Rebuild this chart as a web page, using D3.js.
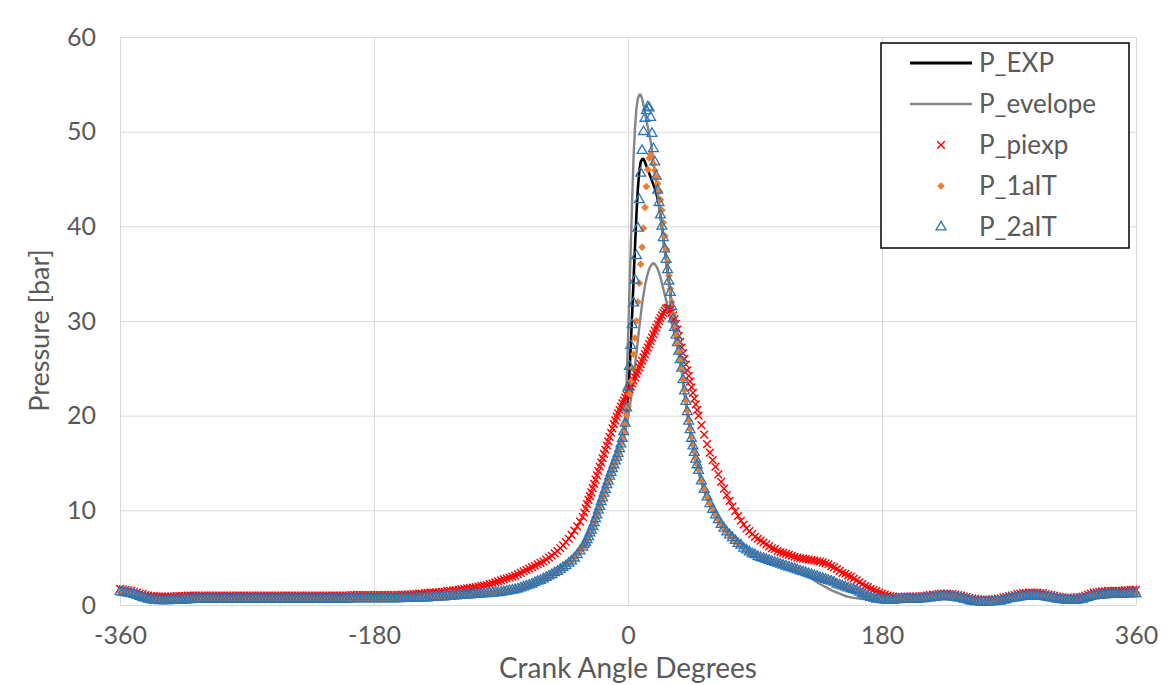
<!DOCTYPE html>
<html>
<head>
<meta charset="utf-8">
<script src="https://cdn.jsdelivr.net/npm/d3@7"></script>
<style>
  body { margin: 0; background: #fff; }
  svg { font-family: Lato, "Open Sans", sans-serif; }
</style>
</head>
<body>
<svg id="chart" width="1172" height="685"></svg>
<script>
// crank angle grid used by the marker series (deg): 2 deg steps, 1 deg around TDC
var angles = [].concat(
  d3.range(-360, -31, 2),
  d3.range(-31, 51, 1),
  d3.range(52, 361, 2)
);

// P_piexp (red x)
var P_piexp = [
  // -360 .. -122
  1.7, 1.65, 1.6, 1.55, 1.5, 1.4, 1.3, 1.2, 1.15, 1.05,
  1.0, 0.95, 0.95, 0.9, 0.9, 0.9, 0.9, 0.9, 0.9, 0.9,
  0.95, 0.95, 0.95, 0.95, 1.0, 1.0, 1.0, 1.0, 1.0, 1.0,
  1.0, 1.0, 1.0, 1.0, 1.0, 1.0, 1.0, 1.0, 1.0, 1.0,
  1.0, 1.0, 1.0, 1.0, 1.0, 1.0, 1.0, 1.0, 1.0, 1.0,
  1.0, 1.0, 1.0, 1.0, 1.0, 1.0, 1.0, 1.0, 1.0, 1.0,
  1.0, 1.0, 1.0, 1.0, 1.0, 1.0, 1.0, 1.0, 1.0, 1.0,
  1.0, 1.0, 1.0, 1.0, 1.0, 1.0, 1.0, 1.0, 1.0, 1.0,
  1.0, 1.0, 1.05, 1.05, 1.05, 1.05, 1.05, 1.05, 1.05, 1.05,
  1.05, 1.05, 1.05, 1.05, 1.05, 1.05, 1.05, 1.05, 1.05, 1.05,
  1.1, 1.1, 1.1, 1.1, 1.15, 1.15, 1.2, 1.2, 1.25, 1.25,
  1.3, 1.3, 1.35, 1.35, 1.4, 1.4, 1.5, 1.5, 1.55, 1.55,
  // -120 .. -32
  1.6, 1.65, 1.7, 1.75, 1.8, 1.85, 1.9, 1.95, 2.0, 2.05, 2.1,
  2.2, 2.3, 2.4, 2.5, 2.6, 2.7, 2.8, 2.9, 3.0, 3.1,
  3.25, 3.4, 3.55, 3.7, 3.85, 4.0, 4.15, 4.3, 4.45, 4.6,
  4.8, 5.0, 5.2, 5.45, 5.7, 6.0, 6.3, 6.65, 7.0, 7.4,
  7.85, 8.3, 8.8, 9.3,
  // -31 .. 50
  9.75, 10.2, 10.65, 11.1, 11.5, 11.9, 12.35, 12.8, 13.25, 13.7,
  14.15, 14.6, 15.05, 15.5, 15.95, 16.4, 16.85, 17.3, 17.75, 18.2,
  18.65, 19.1, 19.5, 19.9, 20.25, 20.6, 20.95, 21.3, 21.6, 21.9,
  22.2, 22.5, 22.8, 23.1, 23.4, 23.7, 24.05, 24.4, 24.75, 25.1,
  25.45, 25.8, 26.15, 26.5, 26.85, 27.2, 27.55, 27.9, 28.25, 28.6,
  28.95, 29.3, 29.65, 30.0, 30.3, 30.6, 30.85, 31.1, 31.3, 31.4,
  31.4, 31.2, 30.9, 30.6, 30.2, 29.7, 29.1, 28.4, 27.8, 27.2,
  26.6, 26.0, 25.4, 24.8, 24.2, 23.6, 23.0, 22.4, 21.8, 21.2,
  20.6, 20.0,
  // 52 .. 180
  19.0, 18.0, 17.0, 16.1, 15.3, 14.6, 13.8, 13.0, 12.3, 11.6,
  11.0, 10.4, 9.9, 9.4, 8.9, 8.5, 8.1, 7.8, 7.5, 7.2,
  7.0, 6.8, 6.6, 6.4, 6.2, 6.0, 5.9, 5.7, 5.6, 5.5,
  5.4, 5.3, 5.2, 5.1, 5.0, 4.95, 4.9, 4.85, 4.8, 4.75,
  4.7, 4.65, 4.6, 4.5, 4.4, 4.3, 4.1, 4.0, 3.8, 3.6,
  3.4, 3.3, 3.1, 3.0, 2.8, 2.6, 2.4, 2.2, 2.0, 1.9,
  1.7, 1.6, 1.5, 1.3, 1.2,
  // 182 .. 360
  1.1, 1.0, 0.95, 0.9, 0.85, 0.85, 0.85, 0.9, 0.9, 0.9,
  0.9, 0.9, 0.9, 0.95, 0.95, 1.0, 1.05, 1.1, 1.1, 1.15,
  1.2, 1.2, 1.2, 1.15, 1.15, 1.1, 1.05, 1.0, 0.9, 0.85,
  0.75, 0.7, 0.65, 0.6, 0.55, 0.55, 0.55, 0.55, 0.6, 0.6,
  0.65, 0.7, 0.8, 0.85, 0.95, 1.0, 1.05, 1.15, 1.2, 1.25,
  1.25, 1.3, 1.3, 1.3, 1.3, 1.25, 1.25, 1.15, 1.1, 1.05,
  1.0, 0.9, 0.85, 0.8, 0.75, 0.75, 0.75, 0.75, 0.8, 0.85,
  0.9, 1.0, 1.1, 1.2, 1.3, 1.35, 1.4, 1.45, 1.45, 1.5,
  1.5, 1.5, 1.5, 1.5, 1.5, 1.55, 1.55, 1.6, 1.6, 1.6
];

// P_1aIT (orange diamonds)
var P_1aIT = [
  // -360 .. -122
  1.4, 1.35, 1.3, 1.2, 1.15, 1.1, 1.0, 0.9, 0.8, 0.7,
  0.6, 0.55, 0.5, 0.5, 0.45, 0.45, 0.5, 0.5, 0.5, 0.5,
  0.5, 0.5, 0.55, 0.55, 0.55, 0.55, 0.6, 0.6, 0.6, 0.6,
  0.6, 0.6, 0.6, 0.6, 0.6, 0.6, 0.6, 0.6, 0.6, 0.6,
  0.6, 0.6, 0.6, 0.6, 0.6, 0.6, 0.6, 0.6, 0.6, 0.6,
  0.6, 0.6, 0.6, 0.6, 0.6, 0.6, 0.6, 0.6, 0.6, 0.6,
  0.6, 0.6, 0.6, 0.6, 0.6, 0.6, 0.6, 0.6, 0.6, 0.6,
  0.6, 0.6, 0.6, 0.6, 0.6, 0.6, 0.6, 0.6, 0.6, 0.6,
  0.6, 0.6, 0.65, 0.65, 0.65, 0.65, 0.65, 0.65, 0.65, 0.65,
  0.65, 0.65, 0.65, 0.65, 0.65, 0.65, 0.65, 0.65, 0.65, 0.65,
  0.7, 0.7, 0.7, 0.7, 0.7, 0.7, 0.75, 0.75, 0.8, 0.8,
  0.8, 0.8, 0.85, 0.85, 0.85, 0.9, 0.9, 0.9, 0.95, 0.95,
  // -120 .. -32
  1.0, 1.0, 1.0, 1.05, 1.05, 1.1, 1.1, 1.15, 1.15, 1.2, 1.2,
  1.25, 1.25, 1.3, 1.3, 1.35, 1.4, 1.45, 1.5, 1.55, 1.6,
  1.7, 1.8, 1.9, 2.0, 2.1, 2.2, 2.35, 2.5, 2.6, 2.75,
  2.9, 3.05, 3.2, 3.4, 3.55, 3.75, 3.95, 4.15, 4.4, 4.65,
  4.95, 5.3, 5.7, 6.1,
  // -31 .. 50
  6.4, 6.6, 6.9, 7.2, 7.6, 7.9, 8.3, 8.7, 9.1, 9.5,
  10.0, 10.4, 10.9, 11.3, 11.8, 12.2, 12.7, 13.1, 13.6, 14.0,
  14.4, 14.8, 15.2, 15.6, 16.0, 16.5, 17.0, 17.5, 18.2, 19.0,
  20.0, 21.0, 22.3, 23.6, 25.0, 26.5, 28.2, 30.0, 32.0, 34.0,
  36.0, 37.8, 39.8, 42.0, 44.2, 46.0, 47.2, 47.6, 47.3, 46.6,
  45.9, 45.2, 44.5, 43.7, 42.8, 41.7, 40.4, 39.0, 37.6, 36.2,
  34.8, 33.4, 32.0, 30.7, 29.5, 28.5, 27.6, 26.7, 25.8, 24.9,
  23.8, 22.7, 21.6, 20.5, 19.5, 18.6, 17.7, 16.9, 16.2, 15.5,
  14.9, 14.3,
  // 52 .. 180
  13.1, 12.2, 11.4, 10.7, 10.1, 9.5, 9.0, 8.5, 8.1, 7.7,
  7.4, 7.1, 6.8, 6.5, 6.3, 6.0, 5.8, 5.6, 5.4, 5.3,
  5.1, 5.0, 4.9, 4.8, 4.7, 4.6, 4.5, 4.4, 4.3, 4.2,
  4.1, 4.0, 3.9, 3.8, 3.7, 3.6, 3.5, 3.4, 3.3, 3.2,
  3.1, 3.0, 2.9, 2.8, 2.7, 2.6, 2.5, 2.4, 2.2, 2.1,
  2.0, 1.9, 1.8, 1.7, 1.6, 1.5, 1.35, 1.2, 1.05, 0.9,
  0.8, 0.7, 0.6, 0.6, 0.55,
  // 182 .. 360
  0.5, 0.5, 0.5, 0.5, 0.55, 0.55, 0.6, 0.6, 0.6, 0.6,
  0.6, 0.6, 0.6, 0.65, 0.65, 0.7, 0.75, 0.8, 0.8, 0.85,
  0.9, 0.9, 0.9, 0.85, 0.85, 0.8, 0.75, 0.7, 0.6, 0.55,
  0.45, 0.4, 0.35, 0.35, 0.3, 0.3, 0.3, 0.3, 0.35, 0.35,
  0.4, 0.4, 0.5, 0.55, 0.65, 0.7, 0.75, 0.8, 0.85, 0.9,
  0.9, 0.95, 0.95, 0.95, 0.95, 0.9, 0.9, 0.85, 0.8, 0.75,
  0.7, 0.6, 0.6, 0.55, 0.5, 0.5, 0.5, 0.5, 0.5, 0.55,
  0.6, 0.7, 0.8, 0.9, 0.95, 1.0, 1.0, 1.05, 1.05, 1.1,
  1.1, 1.1, 1.1, 1.1, 1.1, 1.15, 1.15, 1.2, 1.2, 1.2
];

// P_2aIT (blue hollow triangles)
var P_2aIT = [
  // -360 .. -122
  1.4, 1.35, 1.3, 1.25, 1.2, 1.1, 1.0, 0.9, 0.8, 0.7,
  0.6, 0.55, 0.5, 0.5, 0.45, 0.45, 0.45, 0.45, 0.5, 0.5,
  0.5, 0.5, 0.5, 0.5, 0.55, 0.55, 0.6, 0.6, 0.6, 0.6,
  0.6, 0.6, 0.6, 0.6, 0.6, 0.6, 0.6, 0.6, 0.6, 0.6,
  0.6, 0.6, 0.6, 0.6, 0.6, 0.6, 0.6, 0.6, 0.6, 0.6,
  0.6, 0.6, 0.6, 0.6, 0.6, 0.6, 0.6, 0.6, 0.6, 0.6,
  0.6, 0.6, 0.6, 0.6, 0.6, 0.6, 0.6, 0.6, 0.6, 0.6,
  0.6, 0.6, 0.6, 0.6, 0.6, 0.6, 0.6, 0.6, 0.6, 0.6,
  0.6, 0.6, 0.65, 0.65, 0.65, 0.65, 0.65, 0.65, 0.65, 0.65,
  0.65, 0.65, 0.65, 0.65, 0.65, 0.65, 0.65, 0.65, 0.65, 0.65,
  0.7, 0.7, 0.7, 0.7, 0.7, 0.7, 0.75, 0.75, 0.75, 0.75,
  0.8, 0.8, 0.85, 0.85, 0.85, 0.85, 0.9, 0.9, 0.95, 0.95,
  // -120 .. -32
  1.0, 1.0, 1.0, 1.05, 1.05, 1.1, 1.1, 1.15, 1.15, 1.2, 1.2,
  1.25, 1.25, 1.3, 1.3, 1.35, 1.4, 1.45, 1.5, 1.55, 1.6,
  1.7, 1.8, 1.9, 2.0, 2.1, 2.2, 2.35, 2.5, 2.6, 2.75,
  2.9, 3.05, 3.2, 3.4, 3.55, 3.75, 3.95, 4.15, 4.4, 4.65,
  4.95, 5.3, 5.7, 6.1,
  // -31 .. 50
  6.4, 6.6, 6.9, 7.2, 7.6, 7.9, 8.3, 8.7, 9.1, 9.5,
  10.0, 10.4, 10.9, 11.3, 11.8, 12.2, 12.7, 13.1, 13.6, 14.0,
  14.4, 14.8, 15.2, 15.6, 16.0, 16.5, 17.0, 17.6, 18.3, 19.2,
  20.8, 23.0, 25.2, 27.4, 29.6, 31.9, 34.3, 36.9, 39.8, 42.8,
  45.6, 48.0, 50.0, 51.4, 52.2, 52.6, 52.5, 51.5, 49.8, 48.2,
  46.8, 45.3, 43.8, 42.5, 41.2, 40.0, 38.8, 37.6, 36.5, 35.4,
  34.2, 33.0, 31.5, 30.2, 29.3, 28.5, 27.7, 26.8, 25.9, 25.0,
  23.8, 22.6, 21.5, 20.4, 19.4, 18.5, 17.6, 16.8, 16.1, 15.4,
  14.8, 14.2,
  // 52 .. 180
  13.1, 12.2, 11.4, 10.7, 10.1, 9.5, 9.0, 8.5, 8.1, 7.7,
  7.4, 7.1, 6.8, 6.5, 6.3, 6.0, 5.8, 5.6, 5.4, 5.3,
  5.1, 5.0, 4.9, 4.8, 4.7, 4.6, 4.5, 4.4, 4.3, 4.2,
  4.1, 4.0, 3.9, 3.8, 3.7, 3.6, 3.5, 3.4, 3.3, 3.2,
  3.1, 3.0, 2.9, 2.8, 2.7, 2.6, 2.5, 2.4, 2.2, 2.1,
  2.0, 1.9, 1.8, 1.7, 1.6, 1.5, 1.35, 1.2, 1.05, 0.9,
  0.8, 0.7, 0.6, 0.6, 0.55,
  // 182 .. 360
  0.5, 0.5, 0.5, 0.5, 0.55, 0.55, 0.6, 0.6, 0.6, 0.6,
  0.6, 0.6, 0.6, 0.65, 0.65, 0.7, 0.75, 0.8, 0.8, 0.85,
  0.9, 0.9, 0.9, 0.85, 0.85, 0.8, 0.75, 0.7, 0.6, 0.55,
  0.45, 0.4, 0.35, 0.35, 0.3, 0.3, 0.3, 0.3, 0.35, 0.35,
  0.4, 0.4, 0.5, 0.55, 0.65, 0.7, 0.75, 0.8, 0.85, 0.9,
  0.9, 0.95, 0.95, 0.95, 0.95, 0.9, 0.9, 0.85, 0.8, 0.75,
  0.7, 0.6, 0.6, 0.55, 0.5, 0.5, 0.5, 0.5, 0.5, 0.55,
  0.6, 0.7, 0.8, 0.9, 0.95, 1.0, 1.0, 1.05, 1.05, 1.1,
  1.1, 1.1, 1.1, 1.1, 1.1, 1.15, 1.15, 1.2, 1.2, 1.2
];

// crank angle grid used by the line series (deg)
var lineAngles = [].concat(
  d3.range(-360, -129, 10),
  d3.range(-120, -39, 10),
  d3.range(-35, -14, 5),
  d3.range(-10, 31, 1),
  d3.range(32, 61, 2),
  d3.range(65, 201, 5),
  d3.range(210, 361, 10)
);

// P_EXP (black line)
var P_EXP = [
  1.4, 1.1, 0.6, 0.5, 0.5, 0.55, 0.6, 0.6, 0.6, 0.6,
  0.6, 0.6, 0.6, 0.6, 0.6, 0.6, 0.6, 0.65, 0.65, 0.65,
  0.7, 0.7, 0.8, 0.9,
  1.0, 1.1, 1.2, 1.35, 1.6, 2.1, 2.75, 3.55, 4.65,
  5.5, 6.6, 8.3, 10.4, 12.7,
  14.8, 15.2, 15.6, 16.0, 16.5, 17.0, 17.6, 18.4, 19.5, 20.5,
  22.0, 24.5, 27.5, 31.0, 34.5, 38.0, 41.3, 44.0, 45.8, 46.8,
  47.1, 47.1, 46.8, 46.4, 46.0, 45.6, 45.2, 44.8, 44.4, 44.0,
  43.5, 42.9, 42.2, 41.2, 40.0, 38.8, 37.6, 36.5, 35.4, 34.2,
  33.0,
  30.2, 28.5, 26.8, 25.0, 22.6, 20.4, 18.5, 16.8, 15.4, 14.2,
  13.1, 12.2, 11.4, 10.7, 10.1,
  8.7, 7.7, 6.95, 6.3, 5.7, 5.3, 4.95, 4.7, 4.45, 4.2,
  3.95, 3.7, 3.45, 3.2, 2.95, 2.7, 2.45, 2.1, 1.85, 1.6,
  1.3, 0.9, 0.7, 0.55, 0.5, 0.5, 0.55, 0.6,
  0.65, 0.85, 0.85, 0.55, 0.3, 0.35, 0.6, 0.9, 0.95, 0.75,
  0.5, 0.55, 0.95, 1.1, 1.1, 1.2
];

// P_evelope (grey line): upper and lower envelope of the cycles
var P_envUpper = [
  1.4, 1.1, 0.6, 0.5, 0.5, 0.55, 0.6, 0.6, 0.6, 0.6,
  0.6, 0.6, 0.6, 0.6, 0.6, 0.6, 0.6, 0.65, 0.65, 0.65,
  0.7, 0.7, 0.8, 0.9,
  1.0, 1.1, 1.2, 1.35, 1.6, 2.1, 2.75, 3.55, 4.65,
  5.5, 6.6, 8.3, 10.4, 12.7,
  15.0, 15.4, 15.8, 16.3, 16.8, 17.4, 18.0, 18.8, 20.0, 23.5,
  28.0, 33.0, 38.0, 43.0, 47.5, 50.5, 52.5, 53.5, 53.9, 53.9,
  53.5, 52.8, 52.0, 51.2, 50.5, 49.8, 49.0, 48.0, 46.9, 45.8,
  44.6, 43.4, 42.2, 41.0, 39.8, 38.6, 37.5, 36.4, 35.3, 34.1,
  32.9,
  30.4, 28.7, 27.0, 25.2, 22.8, 20.6, 18.7, 17.0, 15.6, 14.4,
  13.3, 12.4, 11.6, 10.9, 10.3,
  8.7, 7.7, 6.95, 6.3, 5.7, 5.3, 4.95, 4.7, 4.45, 4.2,
  3.95, 3.7, 3.45, 3.2, 2.95, 2.7, 2.45, 2.1, 1.85, 1.6,
  1.3, 0.9, 0.7, 0.55, 0.5, 0.5, 0.55, 0.6,
  0.65, 0.85, 0.85, 0.55, 0.3, 0.35, 0.6, 0.9, 0.95, 0.75,
  0.5, 0.55, 0.95, 1.1, 1.1, 1.2
];
var P_envLower = [
  1.3, 1.0, 0.55, 0.45, 0.45, 0.5, 0.55, 0.55, 0.55, 0.55,
  0.55, 0.55, 0.55, 0.55, 0.55, 0.55, 0.55, 0.6, 0.6, 0.6,
  0.65, 0.65, 0.75, 0.85,
  0.95, 1.05, 1.15, 1.3, 1.55, 2.0, 2.65, 3.45, 4.55,
  5.4, 6.5, 8.2, 10.3, 12.6,
  14.6, 15.0, 15.4, 15.8, 16.2, 16.7, 17.2, 17.7, 18.3, 19.0,
  19.8, 20.7, 21.7, 22.8, 24.0, 25.3, 26.6, 28.0, 29.3, 30.6,
  31.8, 32.8, 33.7, 34.4, 35.0, 35.5, 35.8, 36.0, 36.1, 36.0,
  35.8, 35.5, 35.1, 34.6, 34.0, 33.4, 32.8, 32.2, 31.6, 31.0,
  30.3,
  29.2, 28.0, 26.5, 24.8, 22.4, 20.2, 18.3, 16.6, 15.2, 14.0,
  12.9, 12.0, 11.2, 10.5, 9.9,
  8.6, 7.6, 6.85, 6.2, 5.6, 5.2, 4.85, 4.6, 4.35, 4.1,
  3.8, 3.5, 3.2, 2.8, 2.3, 1.9, 1.5, 1.2, 0.9, 0.75,
  0.65, 0.6, 0.55, 0.5, 0.5, 0.5, 0.55, 0.6,
  0.6, 0.8, 0.8, 0.5, 0.25, 0.3, 0.55, 0.85, 0.9, 0.7,
  0.45, 0.5, 0.9, 1.05, 1.05, 1.15
];

var xTicks = [-360, -180, 0, 180, 360];
var yTicks = [0, 10, 20, 30, 40, 50, 60];

var svg = d3.select('#chart');
var textColor = '#595959';
var gridColor = '#d9d9d9';

var x = d3.scaleLinear().domain([-360, 360]).range([120, 1136]);
var y = d3.scaleLinear().domain([0, 60]).range([605, 37]);

// horizontal grid + y labels
var yAxis = svg.append('g')
  .attr('transform', 'translate(' + x(-360) + ',0)')
  .call(d3.axisLeft(y).tickValues(yTicks).tickFormat(function(d) { return String(d); })
    .tickSize(-(x(360) - x(-360))).tickPadding(24));
// vertical grid + x labels (plain hyphen for negatives, like Excel)
var xAxis = svg.append('g')
  .attr('transform', 'translate(0,' + y(0) + ')')
  .call(d3.axisBottom(x).tickValues(xTicks).tickFormat(function(d) { return String(d); })
    .tickSize(-(y(0) - y(60))).tickPadding(21));

[yAxis, xAxis].forEach(function(a) {
  a.select('.domain').remove();
  a.selectAll('line').attr('stroke', gridColor).attr('stroke-width', 1);
  a.selectAll('text').attr('fill', textColor).style('font-size', '25px').style('font-family', 'Lato, sans-serif');
});

// axis titles
svg.append('text')
  .attr('x', x(0)).attr('y', 678)
  .attr('text-anchor', 'middle')
  .attr('fill', textColor).style('font-size', '28px')
  .text('Crank Angle Degrees');
svg.append('text')
  .attr('transform', 'translate(40,' + y(29) + ') rotate(-90)')
  .attr('text-anchor', 'middle').attr('dy', '0.35em')
  .attr('fill', textColor).style('font-size', '27px')
  .text('Pressure [bar]');

// line series
var line = d3.line()
  .x(function(d) { return x(d[0]); })
  .y(function(d) { return y(d[1]); });

function pairs(xs, ys) { return xs.map(function(a, i) { return [a, ys[i]]; }); }

var plot = svg.append('g');
plot.append('path').datum(pairs(lineAngles, P_EXP))
  .attr('d', line).attr('fill', 'none').attr('stroke', '#000').attr('stroke-width', 2.6);
plot.append('path').datum(pairs(lineAngles, P_envUpper))
  .attr('d', line).attr('fill', 'none').attr('stroke', '#858585').attr('stroke-width', 2.4);
plot.append('path').datum(pairs(lineAngles, P_envLower))
  .attr('d', line).attr('fill', 'none').attr('stroke', '#858585').attr('stroke-width', 2.4);

// marker series
var symX = d3.symbol().type(d3.symbolTimes).size(40)();
var symD = d3.symbol().type(d3.symbolSquare).size(30)();
var symT = d3.symbol().type(d3.symbolTriangle).size(42)();

var markerSeries = [
  { name: 'P_piexp', values: P_piexp, path: symX, rot: 0, fill: 'none', stroke: '#ff0000', sw: 1.4 },
  { name: 'P_1aIT', values: P_1aIT, path: symD, rot: 45, fill: '#ed7d31', stroke: 'none', sw: 0 },
  { name: 'P_2aIT', values: P_2aIT, path: symT, rot: 0, fill: 'none', stroke: '#2e75b6', sw: 1.3 }
];

markerSeries.forEach(function(s) {
  plot.append('g').selectAll('path')
    .data(pairs(angles, s.values))
    .enter().append('path')
    .attr('d', s.path)
    .attr('transform', function(d) {
      return 'translate(' + x(d[0]) + ',' + y(d[1]) + ')' + (s.rot ? ' rotate(' + s.rot + ')' : '');
    })
    .attr('fill', s.fill)
    .attr('stroke', s.stroke)
    .attr('stroke-width', s.sw);
});

// legend
var legend = svg.append('g');
legend.append('rect')
  .attr('x', 881).attr('y', 43).attr('width', 248).attr('height', 205)
  .attr('fill', '#fff').attr('stroke', '#000').attr('stroke-width', 1.5);

var legendItems = [
  { name: 'P_EXP', kind: 'line', stroke: '#000', sw: 3 },
  { name: 'P_evelope', kind: 'line', stroke: '#858585', sw: 2.4 },
  { name: 'P_piexp', kind: 'mark', s: markerSeries[0] },
  { name: 'P_1aIT', kind: 'mark', s: markerSeries[1] },
  { name: 'P_2aIT', kind: 'mark', s: markerSeries[2] }
];

legendItems.forEach(function(it, i) {
  var cy = 63 + i * 41;
  if (it.kind === 'line') {
    legend.append('line')
      .attr('x1', 910).attr('x2', 972).attr('y1', cy).attr('y2', cy)
      .attr('stroke', it.stroke).attr('stroke-width', it.sw);
  } else {
    legend.append('path')
      .attr('d', it.s.path)
      .attr('transform', 'translate(941,' + cy + ')' + (it.s.rot ? ' rotate(' + it.s.rot + ')' : ''))
      .attr('fill', it.s.fill).attr('stroke', it.s.stroke).attr('stroke-width', it.s.sw);
  }
  legend.append('text')
    .attr('x', 979).attr('y', cy).attr('dy', '0.35em')
    .attr('fill', textColor).style('font-size', '26px')
    .text(it.name);
});
</script>
</body>
</html>
